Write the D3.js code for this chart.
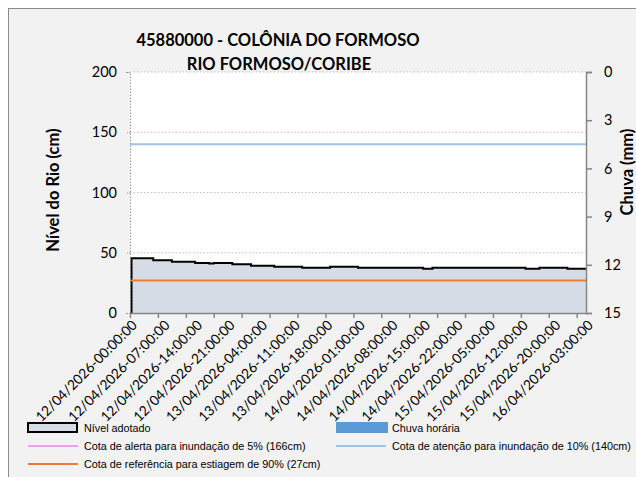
<!DOCTYPE html>
<meta charset="utf-8">
<title>45880000 - COLÔNIA DO FORMOSO</title>
<style>

body {
  margin: 0;
  background: #fff;
}

text {
  font-family: Lato, "Open Sans", sans-serif;
  fill: #000;
}

.grid line {
  stroke: #bfbfbf;
  stroke-dasharray: 1.5 2;
}

.legend text {
  font-family: "Liberation Sans", Arial, sans-serif;
  font-size: 10.8px;
}

</style>
<body>
<script src="https://cdn.jsdelivr.net/npm/d3@7"></script>
<script>

var width = 636,
    height = 477;

// hourly series, 12/04/2026 00:00 -> 16/04/2026 03:00 (99 readings)
var nivel = [
  45.4, 45.4, 45.4, 45.4, 45.4,
  43.7, 43.7, 43.7, 43.7,
  42.6, 42.6, 42.6, 42.6, 42.6,
  41.5, 41.5, 41.5, 41.0, 41.5, 41.5, 41.5, 41.5,
  40.4, 40.4, 40.4, 40.4,
  39.3, 39.3, 39.3, 39.3, 39.3,
  38.4, 38.4, 38.4, 38.4, 38.4, 38.4,
  37.6, 37.6, 37.6, 37.6, 37.6, 37.6,
  38.4, 38.4, 38.4, 38.4, 38.4, 38.4,
  37.6, 37.6, 37.6, 37.6, 37.6, 37.6, 37.6, 37.6, 37.6, 37.6, 37.6, 37.6, 37.6, 37.6,
  36.8, 36.8,
  37.6, 37.6, 37.6, 37.6, 37.6, 37.6, 37.6, 37.6, 37.6, 37.6,
  37.6, 37.6, 37.6, 37.6, 37.6, 37.6, 37.6, 37.6, 37.6, 37.6,
  36.8, 36.8, 36.8,
  37.6, 37.6, 37.6, 37.6, 37.6, 37.6,
  36.8, 36.8, 36.8, 36.8, 36.8
];

var chuva = [
  0, 0, 0, 0, 0, 0, 0, 0, 0, 0, 0, 0, 0, 0, 0, 0, 0, 0, 0, 0,
  0, 0, 0, 0, 0, 0, 0, 0, 0, 0, 0, 0, 0, 0, 0, 0, 0, 0, 0, 0,
  0, 0, 0, 0, 0, 0, 0, 0, 0, 0, 0, 0, 0, 0, 0, 0, 0, 0, 0, 0,
  0, 0, 0, 0, 0, 0, 0, 0, 0, 0, 0, 0, 0, 0, 0, 0, 0, 0, 0, 0,
  0, 0, 0, 0, 0, 0, 0, 0, 0, 0, 0, 0, 0, 0, 0, 0, 0, 0, 0
];

// every 7th reading carries a label
var xLabels = [
  "12/04/2026-00:00:00", "12/04/2026-07:00:00", "12/04/2026-14:00:00",
  "12/04/2026-21:00:00", "13/04/2026-04:00:00", "13/04/2026-11:00:00",
  "13/04/2026-18:00:00", "14/04/2026-01:00:00", "14/04/2026-08:00:00",
  "14/04/2026-15:00:00", "14/04/2026-22:00:00", "15/04/2026-05:00:00",
  "15/04/2026-12:00:00", "15/04/2026-20:00:00", "16/04/2026-03:00:00"
];
var labelStep = 7,
    tickStep = 6;

var yTicks = [0, 50, 100, 150, 200],
    y2Ticks = [0, 3, 6, 9, 12, 15];

var cotas = [
  {name: "Cota de alerta para inundação de 5% (166cm)", value: 166, color: "#f09cf0", show: false},
  {name: "Cota de atenção para inundação de 10% (140cm)", value: 140, color: "#9dc3e6", show: true},
  {name: "Cota de referência para estiagem de 90% (27cm)", value: 27, color: "#ed7d31", show: true}
];

var plot = {left: 130, right: 586, top: 72, bottom: 313};

var x = d3.scaleLinear()
    .domain([0, nivel.length - 1])
    .range([plot.left, plot.right]);

var y = d3.scaleLinear()
    .domain([0, 200])
    .range([plot.bottom, plot.top]);

var y2 = d3.scaleLinear()
    .domain([0, 15])
    .range([plot.top, plot.bottom]);

var svg = d3.select("body").append("svg")
    .attr("width", width)
    .attr("height", height);

// chart area
svg.append("rect")
    .attr("x", 8.5)
    .attr("y", 8.5)
    .attr("width", width + 20)
    .attr("height", height + 20)
    .attr("fill", "#f2f2f2")
    .attr("stroke", "#8c8c8c");

svg.append("rect")
    .attr("x", plot.left)
    .attr("y", plot.top)
    .attr("width", plot.right - plot.left)
    .attr("height", plot.bottom - plot.top)
    .attr("fill", "#fff");

// gridlines
svg.append("g")
    .attr("class", "grid")
  .selectAll("line")
    .data(yTicks.slice(1))
  .enter().append("line")
    .attr("x1", plot.left)
    .attr("x2", plot.right)
    .attr("y1", function(d) { return y(d); })
    .attr("y2", function(d) { return y(d); });

// rain bars (hanging from the top)
var bw = (plot.right - plot.left) / nivel.length * 0.6;
svg.append("g").selectAll("rect")
    .data(chuva)
  .enter().append("rect")
    .attr("x", function(d, i) { return x(i) - bw / 2; })
    .attr("y", y2(0))
    .attr("width", bw)
    .attr("height", function(d) { return y2(d) - y2(0); })
    .attr("fill", "#5b9bd5");

// level area
var area = d3.area()
    .x(function(d, i) { return x(i); })
    .y0(y(0))
    .y1(function(d) { return y(d); })
    .curve(d3.curveStepAfter);

svg.append("path")
    .datum(nivel)
    .attr("d", area)
    .attr("fill", "#d6dce5");

var line = d3.line()
    .x(function(d, i) { return x(i); })
    .y(function(d) { return y(d); })
    .curve(d3.curveStepAfter);

svg.append("path")
    .datum(nivel)
    .attr("d", "M" + (x(0) + 1.5) + "," + y(0) + "V" + y(nivel[0]) + line(nivel).replace(/^M[^L]*/, "L" + (x(0) + 1.5) + "," + y(nivel[0])))
    .attr("fill", "none")
    .attr("stroke", "#000")
    .attr("stroke-width", 2);

// reference levels
svg.append("g").selectAll("line")
    .data(cotas.filter(function(d) { return d.show; }))
  .enter().append("line")
    .attr("x1", plot.left)
    .attr("x2", plot.right)
    .attr("y1", function(d) { return y(d.value); })
    .attr("y2", function(d) { return y(d.value); })
    .attr("stroke", function(d) { return d.color; })
    .attr("stroke-width", 2);

// left axis (dotted)
var yAxis = svg.append("g")
    .attr("transform", "translate(" + plot.left + ",0)")
    .call(d3.axisLeft(y).tickValues(yTicks).tickSize(4).tickPadding(9));
yAxis.select(".domain").attr("stroke", "#9a9a9a").attr("stroke-dasharray", "1.5 1.5");
yAxis.selectAll(".tick line").attr("stroke", "#9a9a9a").attr("stroke-dasharray", "1 1");
yAxis.selectAll("text")
    .attr("font-family", "Lato")
    .attr("font-size", "14.5px")
    .attr("fill", "#000");

// right axis (rain, inverted)
var y2Axis = svg.append("g")
    .attr("transform", "translate(" + plot.right + ",0)")
    .call(d3.axisRight(y2).tickValues(y2Ticks).tickSize(6).tickPadding(12));
y2Axis.select(".domain").attr("stroke", "#868686").attr("stroke-width", 1.5);
y2Axis.selectAll(".tick line").attr("stroke", "#868686").attr("stroke-width", 1.5);
y2Axis.selectAll("text")
    .attr("font-family", "Lato")
    .attr("font-size", "14.5px")
    .attr("fill", "#000");

// bottom axis
var tickIdx = d3.range(0, nivel.length, tickStep);
var xAxis = svg.append("g")
    .attr("transform", "translate(0," + plot.bottom + ")")
    .call(d3.axisBottom(x).tickValues(tickIdx).tickSize(5).tickSizeOuter(0).tickFormat(""));
xAxis.select(".domain").attr("stroke", "#868686").attr("stroke-width", 1.5);
xAxis.selectAll(".tick line").attr("stroke", "#868686").attr("stroke-width", 1.5);

svg.append("g").selectAll("text")
    .data(xLabels)
  .enter().append("text")
    .attr("transform", function(d, i) {
      return "translate(" + (x(i * labelStep) + 8) + "," + (plot.bottom + 13) + ")rotate(-45)";
    })
    .attr("text-anchor", "end")
    .attr("font-size", "13.8px")
    .text(function(d) { return d; });

// titles
svg.append("text")
    .attr("x", 278)
    .attr("y", 46)
    .attr("text-anchor", "middle")
    .attr("font-weight", "bold")
    .attr("font-size", "16.5px")
    .text("45880000 - COLÔNIA DO FORMOSO");

svg.append("text")
    .attr("x", 279)
    .attr("y", 70)
    .attr("text-anchor", "middle")
    .attr("font-weight", "bold")
    .attr("font-size", "16.5px")
    .text("RIO FORMOSO/CORIBE");

svg.append("text")
    .attr("transform", "translate(59,190)rotate(-90)")
    .attr("text-anchor", "middle")
    .attr("font-weight", "bold")
    .attr("font-size", "16.5px")
    .text("Nível do Rio (cm)");

svg.append("text")
    .attr("transform", "translate(633,172)rotate(-90)")
    .attr("text-anchor", "middle")
    .attr("font-weight", "bold")
    .attr("font-size", "16.5px")
    .text("Chuva (mm)");

// legend
var legend = svg.append("g").attr("class", "legend");

function legendText(tx, ty, label) {
  legend.append("text")
      .attr("x", tx)
      .attr("y", ty)
      .text(label);
}

legend.append("rect")
    .attr("x", 28).attr("y", 423)
    .attr("width", 49).attr("height", 9)
    .attr("fill", "#d6dce5")
    .attr("stroke", "#000")
    .attr("stroke-width", 2);
legendText(84, 432, "Nível adotado");

legend.append("rect")
    .attr("x", 336).attr("y", 422)
    .attr("width", 52).attr("height", 11)
    .attr("fill", "#5b9bd5");
legendText(392, 432, "Chuva horária");

var legendPos = [[28, 446], [336, 446], [28, 464]];
cotas.forEach(function(d, i) {
  var p = legendPos[i];
  legend.append("line")
      .attr("x1", p[0]).attr("x2", p[0] + 50)
      .attr("y1", p[1]).attr("y2", p[1])
      .attr("stroke", d.color)
      .attr("stroke-width", 2);
  legendText(p[0] + 56, p[1] + 4, d.name);
});

</script>
</body>
</html>
